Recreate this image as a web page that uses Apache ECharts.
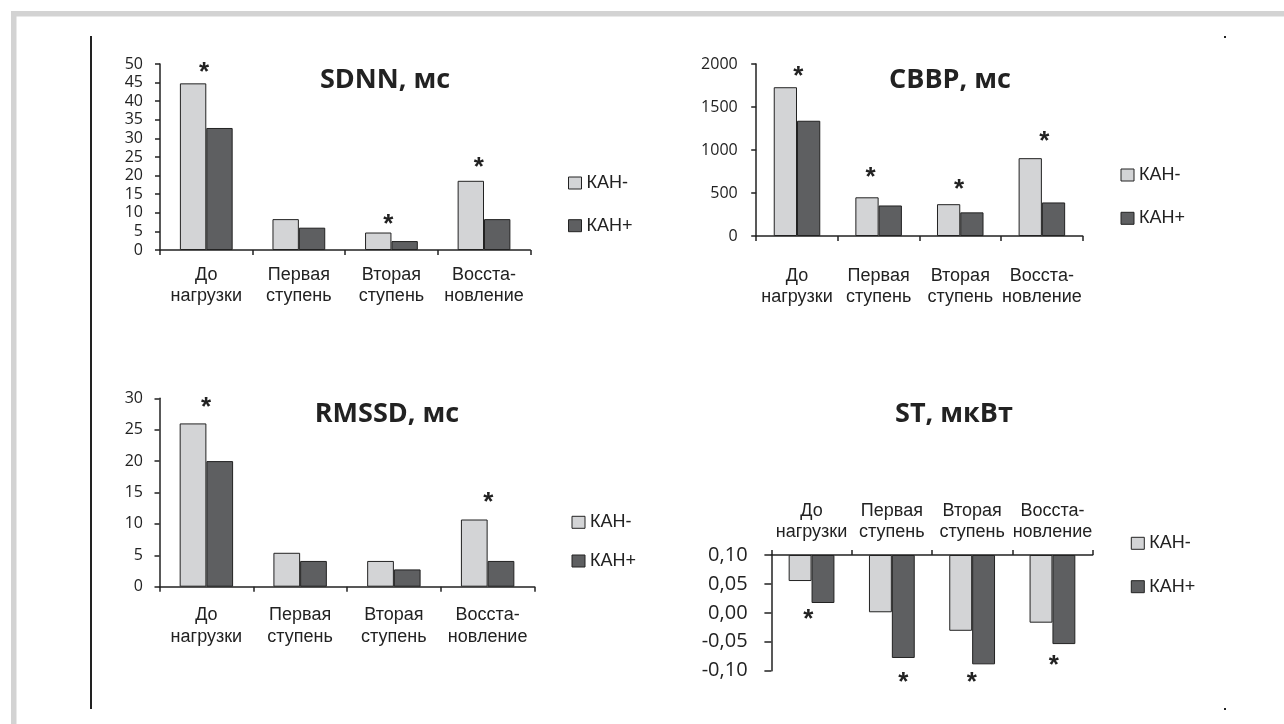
<!DOCTYPE html>
<html>
<head>
<meta charset="utf-8">
<script src="https://cdn.jsdelivr.net/npm/echarts@6/dist/echarts.min.js"></script>
<style>
html,body{margin:0;padding:0;background:#fff;}
#chart{width:1284px;height:724px;}
</style>
</head>
<body>
<div id="chart"></div>
<script>
// ---------- DATA ----------
const categories = ['До\nнагрузки', 'Первая\nступень', 'Вторая\nступень', 'Восста-\nновление'];
const seriesNames = ['КАН-', 'КАН+'];

const sdnnTitle = 'SDNN, мс';
const sdnnTicks = [0, 5, 10, 15, 20, 25, 30, 35, 40, 45, 50];
const sdnnMinus = [44.8, 8.3, 4.7, 18.6];
const sdnnPlus  = [32.8, 6.0, 2.4, 8.3];
const sdnnStars = [true, false, true, true];

const cbbpTitle = 'СВВР, мс';
const cbbpTicks = [0, 500, 1000, 1500, 2000];
const cbbpMinus = [1730, 450, 370, 905];
const cbbpPlus  = [1340, 355, 275, 390];
const cbbpStars = [true, true, true, true];

const rmssdTitle = 'RMSSD, мс';
const rmssdTicks = [0, 5, 10, 15, 20, 25, 30];
const rmssdMinus = [26.0, 5.4, 4.1, 10.7];
const rmssdPlus  = [20.0, 4.1, 2.75, 4.1];
const rmssdStars = [true, false, false, true];

const stTitle = 'ST, мкВт';
const stTicks = [-0.10, -0.05, 0.00, 0.05, 0.10];
const stMinus = [0.055, 0.001, -0.031, -0.017];
const stPlus  = [0.017, -0.078, -0.089, -0.054];
const stStars = [true, true, true, true];

// ---------- LAYOUT / STYLE ----------
const COL_MINUS = '#d3d4d6';
const COL_PLUS = '#5e5f61';
const INK = '#222222';
const CAT_FONT = '"Liberation Sans", Arial, sans-serif';
const NUM_FONT = '"Open Sans", sans-serif';

const panels = [
  { key: 'sdnn', title: sdnnTitle, ticks: sdnnTicks, minus: sdnnMinus, plus: sdnnPlus, stars: sdnnStars, starOn: 0,
    grid: { left: 160, top: 64, width: 370.3, height: 186 }, titleXY: [385, 80],
    legend: { left: 568, top: 173, gap: 22.7 }, catMargin: 14, yMargin: 17, tickFont: 16, tickLen: 5,
    starPos: [[11, 15], [0, 0], [10, 12], [8, 17]] },
  { key: 'cbbp', title: cbbpTitle, ticks: cbbpTicks, minus: cbbpMinus, plus: cbbpPlus, stars: cbbpStars, starOn: 0,
    grid: { left: 756.2, top: 64, width: 326.5, height: 172 }, titleXY: [950, 80],
    legend: { left: 1120.5, top: 165, gap: 23.3 }, catMargin: 29, yMargin: 18.5, tickFont: 16, tickLen: 5,
    starPos: [[13, 15.3], [3.5, 23.7], [10.5, 19], [14, 21]] },
  { key: 'rmssd', title: rmssdTitle, ticks: rmssdTicks, minus: rmssdMinus, plus: rmssdPlus, stars: rmssdStars, starOn: 0,
    grid: { left: 159.5, top: 398.3, width: 375, height: 188.4 }, titleXY: [387, 414],
    legend: { left: 571.5, top: 512.3, gap: 18.7 }, catMargin: 17.5, yMargin: 16.5, tickFont: 16, tickLen: 5,
    starPos: [[13, 19.7], [0, 0], [0, 0], [14, 21.4]] },
  { key: 'st', title: stTitle, ticks: stTicks, minus: stMinus, plus: stPlus, stars: stStars, starOn: 1,
    grid: { left: 771.4, top: 555, width: 321.2, height: 115.7 }, titleXY: [954, 414],
    legend: { left: 1130.8, top: 533.3, gap: 23.4 }, catMargin: 12, yMargin: 23.8, tickFont: 20, tickLen: 7,
    starPos: [[-14.6, 12.7], [0, 20.6], [-11.8, 14.3], [-10, 17.7]], hanging: true }
];

const STAR_SHIFT = 4.5;

function starLabel(dx, gap, below) {
  return {
    show: true, formatter: '*', position: below ? 'bottom' : 'top', distance: 0,
    verticalAlign: 'middle', align: 'center',
    offset: below ? [dx, gap + STAR_SHIFT] : [dx, -gap + STAR_SHIFT],
    fontSize: 26, fontWeight: 'bold', fontFamily: CAT_FONT, color: INK
  };
}

const grids = [], xAxes = [], yAxes = [], series = [], legends = [], graphics = [];

panels.forEach((p, i) => {
  grids.push(Object.assign({ containLabel: false }, p.grid));
  const hanging = !!p.hanging;
  const tMin = p.ticks[0], tMax = p.ticks[p.ticks.length - 1], tStep = p.ticks[1] - p.ticks[0];
  const axTop = tMax; // for hanging chart: bars hang from the top of the axis

  xAxes.push({
    type: 'category', gridIndex: i, data: categories,
    position: hanging ? 'top' : 'bottom',
    axisLine: { show: true, onZero: false, lineStyle: { color: INK, width: 1.5 } },
    axisTick: { show: true, length: 5, lineStyle: { color: INK, width: 1.5 } },
    axisLabel: { interval: 0, margin: p.catMargin, fontSize: 18, lineHeight: 21.6,
      fontFamily: CAT_FONT, color: INK },
    splitLine: { show: false }
  });

  if (hanging) {
    yAxes.push({
      type: 'value', gridIndex: i, inverse: true,
      min: 0, max: Math.round((tMax - tMin) * 1000) / 1000, interval: tStep,
      axisLine: { show: true, lineStyle: { color: INK, width: 1.5 } },
      axisTick: { show: true, length: p.tickLen, lineStyle: { color: INK, width: 1.5 } },
      splitLine: { show: false },
      axisLabel: { margin: p.yMargin, fontSize: p.tickFont, fontFamily: NUM_FONT, color: INK,
        formatter: v => { const r = Math.round((axTop - v) * 100) / 100; return (r === 0 ? 0 : r).toFixed(2).replace('.', ','); } }
    });
  } else {
    yAxes.push({
      type: 'value', gridIndex: i, min: tMin, max: tMax, interval: tStep,
      axisLine: { show: true, lineStyle: { color: INK, width: 1.5 } },
      axisTick: { show: true, length: p.tickLen, lineStyle: { color: INK, width: 1.5 } },
      splitLine: { show: false },
      axisLabel: { margin: p.yMargin, fontSize: p.tickFont, fontFamily: NUM_FONT, color: INK,
        formatter: v => String(v) }
    });
  }

  [p.minus, p.plus].forEach((vals, s) => {
    const data = vals.map((v, k) => {
      const val = hanging ? Math.round((axTop - v) * 10000) / 10000 : v;
      const item = { value: val };
      if (s === p.starOn && p.stars[k]) {
        item.label = starLabel(p.starPos[k][0], p.starPos[k][1], hanging);
      }
      return item;
    });
    series.push({
      type: 'bar', name: seriesNames[s], xAxisIndex: i, yAxisIndex: i,
      barGap: '0%', barCategoryGap: '43%',
      itemStyle: { color: s === 0 ? COL_MINUS : COL_PLUS, borderColor: INK, borderWidth: 1 },
      label: { show: false },
      emphasis: { disabled: true },
      animation: false,
      data: data
    });
  });

  legends.push({
    orient: 'vertical', left: p.legend.left, top: p.legend.top, itemGap: p.legend.gap,
    padding: 0, itemWidth: 13, itemHeight: 12, icon: 'rect', selectedMode: false,
    data: seriesNames,
    itemStyle: { borderColor: INK, borderWidth: 1 },
    textStyle: { fontSize: 18, fontFamily: CAT_FONT, color: INK, lineHeight: 20 }
  });

  graphics.push({
    type: 'text', x: p.titleXY[0], y: p.titleXY[1],
    style: { text: p.title, fontSize: 27, fontWeight: 'bold', fontFamily: NUM_FONT, fill: INK,
      textAlign: 'center', textVerticalAlign: 'middle' }
  });
});

// frame and decorations
graphics.push({ type: 'rect', shape: { x: 11, y: 11, width: 1273, height: 5.5 }, style: { fill: '#d3d3d3' }, z: -1 });
graphics.push({ type: 'rect', shape: { x: 11, y: 11, width: 5.5, height: 713 }, style: { fill: '#d3d3d3' }, z: -1 });
graphics.push({ type: 'line', shape: { x1: 91, y1: 36, x2: 91, y2: 709 }, style: { stroke: INK, lineWidth: 2 } });
graphics.push({ type: 'rect', shape: { x: 1224, y: 36, width: 2, height: 2 }, style: { fill: INK } });
graphics.push({ type: 'rect', shape: { x: 1224, y: 708, width: 2, height: 2 }, style: { fill: INK } });

const chart = echarts.init(document.getElementById('chart'), null, { renderer: 'canvas' });
chart.setOption({
  backgroundColor: '#ffffff',
  animation: false,
  grid: grids, xAxis: xAxes, yAxis: yAxes, series: series, legend: legends,
  graphic: graphics
});
</script>
</body>
</html>
